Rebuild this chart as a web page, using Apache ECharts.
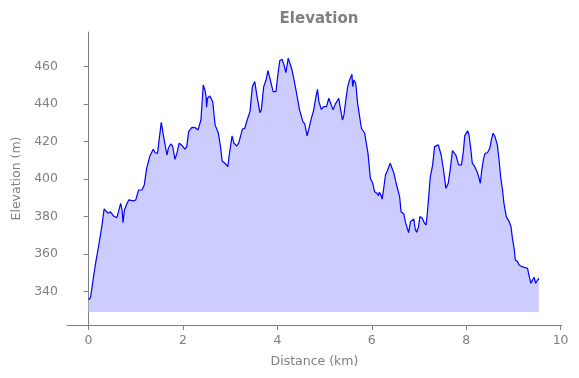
<!DOCTYPE html>
<html>
<head>
	<meta http-equiv="Content-Type" content="text/html; charset=utf-8" />
	<title>Elevation</title>
	<script src="https://cdn.jsdelivr.net/npm/echarts@6/dist/echarts.min.js"></script>
</head>
<body style="padding: 0;margin: 0;background: #fff;">
<div id="main" style="width: 579px;height:378px;"></div>

<script type="text/javascript">
	// distance along the track (km)
	var distance = [0, 0.04, 0.07, 0.11, 0.16, 0.21, 0.28, 0.33, 0.37, 0.41, 0.46, 0.49, 0.53, 0.6, 0.64, 0.68,
		0.71, 0.73, 0.76, 0.8, 0.85, 0.88, 0.95, 1.0, 1.06, 1.13, 1.18, 1.23, 1.3, 1.37, 1.41, 1.46,
		1.54, 1.59, 1.66, 1.69, 1.74, 1.78, 1.83, 1.87, 1.92, 1.97, 2.04, 2.08, 2.12, 2.19, 2.26, 2.32,
		2.38, 2.43, 2.47, 2.49, 2.5, 2.52, 2.57, 2.63, 2.68, 2.75, 2.8, 2.83, 2.89, 2.95, 2.98, 3.04,
		3.08, 3.14, 3.18, 3.22, 3.26, 3.31, 3.36, 3.42, 3.47, 3.52, 3.57, 3.63, 3.66, 3.71, 3.76, 3.8,
		3.85, 3.91, 3.97, 4.01, 4.05, 4.1, 4.14, 4.18, 4.23, 4.26, 4.31, 4.35, 4.4, 4.47, 4.54, 4.58,
		4.63, 4.67, 4.72, 4.77, 4.81, 4.85, 4.88, 4.93, 4.98, 5.04, 5.09, 5.13, 5.18, 5.23, 5.27, 5.3,
		5.34, 5.38, 5.41, 5.45, 5.49, 5.53, 5.58, 5.59, 5.6, 5.62, 5.66, 5.7, 5.78, 5.85, 5.92, 5.97,
		6.02, 6.06, 6.11, 6.14, 6.16, 6.2, 6.22, 6.25, 6.29, 6.33, 6.35, 6.39, 6.43, 6.47, 6.52, 6.55,
		6.59, 6.62, 6.68, 6.71, 6.75, 6.78, 6.82, 6.85, 6.89, 6.92, 6.95, 6.99, 7.02, 7.07, 7.11, 7.15,
		7.18, 7.24, 7.29, 7.33, 7.37, 7.41, 7.47, 7.52, 7.57, 7.62, 7.66, 7.71, 7.75, 7.78, 7.84, 7.9,
		7.94, 7.97, 8.03, 8.06, 8.1, 8.13, 8.18, 8.23, 8.26, 8.3, 8.33, 8.37, 8.4, 8.45, 8.5, 8.54,
		8.57, 8.61, 8.66, 8.7, 8.73, 8.77, 8.8, 8.85, 8.91, 8.95, 8.98, 9.02, 9.04, 9.09, 9.12, 9.18,
		9.23, 9.25, 9.3, 9.33, 9.37, 9.4, 9.42, 9.44, 9.47, 9.5, 9.54];
	// elevation (m)
	var elevation = [335.5, 336.6, 341.6, 348.7, 356.7, 363.8, 374.5, 384, 383.4, 381.7, 382.5, 382.5, 380.2, 379.3, 380.2, 387,
		383.4, 376.7, 383.4, 386.1, 388.8, 388.3, 388.3, 388.8, 394.1, 394.1, 396.8, 405.7, 412.3, 415.9, 414, 413.7,
		430.3, 422.6, 412.8, 416.4, 418.7, 417.6, 410.5, 413.7, 419.1, 418.2, 416, 417.3, 425.3, 427.6, 427.4, 426.2,
		431.5, 450.2, 447, 444, 438.3, 443.1, 444.3, 441.3, 428.9, 424.4, 416.4, 409.6, 408.4, 406.6, 412.8, 423,
		419.1, 417.6, 419.1, 418.5, 426.6, 427.1, 431.5, 436, 449.3, 452, 444, 435.4, 436.9, 449.3, 452.9, 457.9,
		452.9, 446.6, 446.6, 455.6, 463.2, 464, 460.9, 456.8, 464.5, 464.5, 458.2, 453.3, 446.6, 436.9, 430.6, 429.4,
		423, 424, 432.4, 436.9, 443.1, 447.9, 441.3, 437.2, 438.6, 438.6, 443.1, 442.6, 436.9, 440.1, 440.8, 443.1,
		436.9, 431.5, 434.2, 442.2, 449.3, 452.9, 455.9, 451, 449.3, 452.9, 451.1, 440.4, 427.1, 424.4, 413.7, 400.4,
		397.7, 393.2, 392.4, 391, 392.9, 391.1, 389.2, 394.5, 402.1, 404.4, 403.9, 408.4, 408.4, 403, 397.3, 396.3,
		390.6, 382.5, 381.3, 377.2, 376.3, 371.3, 377.2, 376.3, 378.6, 373.3, 371.5, 374.5, 379.9, 379, 376.7, 375.4,
		382.5, 401.2, 407.5, 417.3, 418.2, 418.2, 412.8, 404.8, 395, 397.7, 404.8, 415.1, 415.1, 412.8, 407.5, 407.5,
		414.6, 423, 425.8, 423.5, 415.5, 408.4, 406.6, 403.9, 401.6, 397.7, 404.8, 411, 413.7, 414, 416.4, 421.7,
		424.4, 422.6, 418.2, 409.3, 401.2, 394.1, 387, 379.9, 377.2, 374.5, 368.3, 362.1, 356.7, 355.8, 354.1, 353.2,
		352.8, 351.8, 352.3, 348.7, 344.3, 345.7, 345.2, 347.5, 344.3, 345.2, 347];
	var xTicks = [0, 2, 4, 6, 8, 10];
	var yTicks = [340, 360, 380, 400, 420, 440, 460];

	var points = [];
	for (var i = 0; i < distance.length; i++) {
		points.push([distance[i], elevation[i]]);
	}

	var grey = '#808080';
	var font = 'DejaVu Sans';
	var myChart = echarts.init(document.getElementById('main'), null, {renderer: 'canvas'});
	var option = {
		animation: false,
		title: {
			text: 'Elevation',
			left: 314,
			top: 7,
			textAlign: 'center',
			textStyle: { color: grey, fontFamily: font, fontWeight: 'bold', fontSize: 15 }
		},
		grid: { left: 67, top: 32, right: 17, bottom: 53, containLabel: false },
		xAxis: {
			type: 'value',
			min: -0.457,
			max: 10.03,
			name: 'Distance (km)',
			nameLocation: 'middle',
			nameGap: 30,
			nameTextStyle: { color: grey, fontFamily: font, fontSize: 12.5 },
			axisLine: { show: true, lineStyle: { color: grey, width: 1 } },
			axisTick: { show: true, length: 5, customValues: xTicks, lineStyle: { color: grey } },
			axisLabel: { customValues: xTicks, color: grey, fontFamily: font, fontSize: 12.5, margin: 9 },
			splitLine: { show: false }
		},
		yAxis: {
			type: 'value',
			min: 322,
			max: 478.5,
			name: 'Elevation (m)',
			nameLocation: 'middle',
			nameGap: 42,
			nameTextStyle: { color: grey, fontFamily: font, fontSize: 12.5 },
			axisLine: { show: true, lineStyle: { color: grey, width: 1 } },
			axisTick: { show: true, length: 5, customValues: yTicks, lineStyle: { color: grey } },
			axisLabel: { customValues: yTicks, color: grey, fontFamily: font, fontSize: 12.5, margin: 9 },
			splitLine: { show: false }
		},
		series: [{
			type: 'line',
			data: points,
			symbol: 'none',
			smooth: false,
			lineStyle: { color: '#0000ff', width: 1.2 },
			itemStyle: { color: '#0000ff' },
			areaStyle: { color: '#ccccff', opacity: 1, origin: 329 }
		}]
	};
	myChart.setOption(option);
</script>
</body>
</html>
